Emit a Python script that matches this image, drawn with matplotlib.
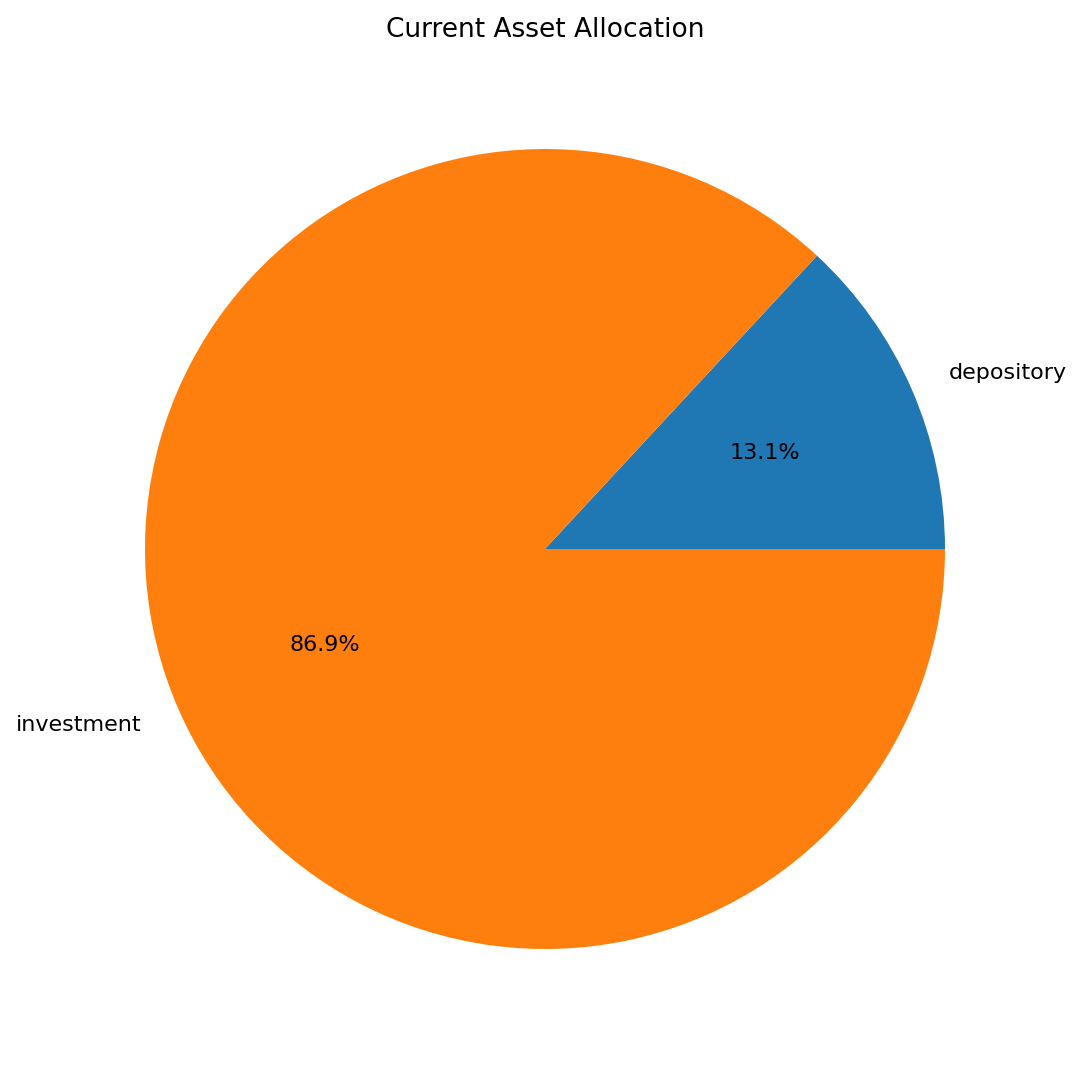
import matplotlib
matplotlib.use("Agg")
import matplotlib.pyplot as plt

labels = ["depository", "investment"]
shares = [13.1, 86.9]

fig = plt.figure(figsize=(10.83, 10.66), dpi=100)
ax = fig.add_axes([45 / 1083, 17 / 1066, 1000 / 1083, 1000 / 1066])

ax.pie(shares, labels=labels, autopct="%1.1f%%", textprops={"fontsize": 16})
ax.set_title("Current Asset Allocation", fontsize=19, pad=9)

plt.savefig("out.png", dpi=100)
